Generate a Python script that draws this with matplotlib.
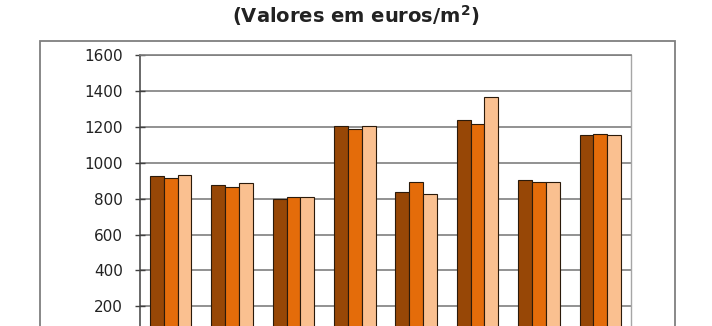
import numpy as np
import matplotlib.pyplot as plt
from matplotlib.patches import Rectangle

# valores por grupo (euros/m2)
grupos = np.arange(8)
serie_1 = [928, 879, 801, 1207, 837, 1241, 903, 1157]
serie_2 = [918, 864, 808, 1192, 893, 1215, 892, 1164]
serie_3 = [933, 889, 808, 1208, 824, 1368, 892, 1155]
yticks = [200, 400, 600, 800, 1000, 1200, 1400, 1600]

cores = ['#974706', '#E46C0A', '#FAC090']

fig = plt.figure(figsize=(7.12, 3.26), dpi=100)
W, H = 712, 326

# moldura exterior do grafico
fig.patches.append(Rectangle((40 / W, -0.2), (675 - 40) / W, 1.2 - 41 / H,
                             transform=fig.transFigure, fill=False,
                             edgecolor='#7f7f7f', linewidth=1.3))

ax = fig.add_axes([140 / W, 1 - 342 / H, 491 / W, (342 - 55.5) / H])

largura = 0.225
for k, (serie, cor) in enumerate(zip([serie_1, serie_2, serie_3], cores)):
    ax.bar(grupos + (k - 1) * largura, serie, largura, color=cor,
           edgecolor='#2b1a0a', linewidth=0.8, zorder=3)

ax.set_xlim(-0.5, 7.5)
ax.set_ylim(0, 1600)
ax.set_yticks(yticks)
ax.yaxis.grid(True, color='#7f7f7f', linewidth=1.2, zorder=0)
ax.set_xticks([])
ax.tick_params(axis='y', direction='inout', length=7, width=1,
               color='#404040', pad=9, labelsize=11, labelcolor='#222222')

ax.spines['left'].set_color('#404040')
ax.spines['left'].set_linewidth(1.1)
ax.spines['top'].set_color('#7f7f7f')
ax.spines['top'].set_linewidth(1.2)
ax.spines['right'].set_color('#a6a6a6')
ax.spines['right'].set_linewidth(1.0)
ax.spines['bottom'].set_visible(False)

fig.text(0.5, 1 - 16 / H, '(Valores em euros/m$^\\mathbf{2}$)', ha='center', va='center',
         fontsize=14, fontweight='bold', color='#222222')

plt.savefig('out.png', dpi=100)
